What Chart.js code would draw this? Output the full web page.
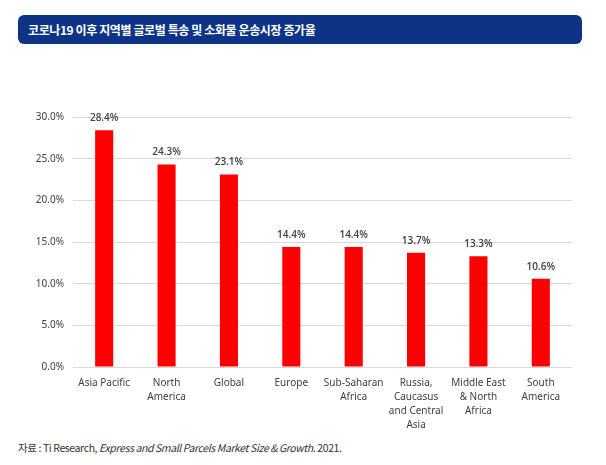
<!DOCTYPE html>
<html>
<head>
<meta charset="utf-8">
<script src="https://cdn.jsdelivr.net/npm/chart.js@4"></script>
<style>
  body { margin: 0; width: 606px; height: 465px; background: #fff; position: relative; overflow: hidden; }
  #title {
    position: absolute; left: 18px; top: 15px; width: 564px; height: 29px;
    background: #0d3387; border-radius: 6px; color: #fff;
    font: bold 12px "Noto Sans CJK KR", sans-serif; line-height: 29px;
    letter-spacing: -0.4px; padding-left: 10px; box-sizing: border-box;
  }
  #wrap { position: absolute; left: 0; top: 60px; width: 606px; height: 380px; }
  #source {
    position: absolute; left: 18px; top: 440px;
    font: 10.5px "Noto Sans CJK KR", sans-serif; color: #333; letter-spacing: -0.4px;
  }
</style>
</head>
<body>
<div id="title">코로나19 이후 지역별 글로벌 특송 및 소화물 운송시장 증가율</div>
<div id="wrap"><canvas id="chart"></canvas></div>
<div id="source">자료 : Ti Research, <i>Express and Small Parcels Market Size &amp; Growth</i>. 2021.</div>
<script>
// 지역 (x축 레이블)
const regions = [
  ["Asia Pacific"],
  ["North", "America"],
  ["Global"],
  ["Europe"],
  ["Sub-Saharan", "Africa"],
  ["Russia,", "Caucasus", "and Central", "Asia"],
  ["Middle East", "& North", "Africa"],
  ["South", "America"]
];
// 증가율 (%)
const growth = [28.4, 24.3, 23.1, 14.4, 14.4, 13.7, 13.3, 10.6];
const yTicks = [0, 5, 10, 15, 20, 25, 30];

// 막대 위 값 표시
const valueLabels = {
  id: "valueLabels",
  afterDatasetsDraw(chart) {
    const ctx = chart.ctx;
    const meta = chart.getDatasetMeta(0);
    ctx.save();
    ctx.font = "600 10px 'Open Sans', sans-serif";
    ctx.fillStyle = "#404040";
    ctx.textAlign = "center";
    ctx.textBaseline = "bottom";
    meta.data.forEach((bar, i) => {
      ctx.fillText(growth[i].toFixed(1) + "%", bar.x, bar.y - 7);
    });
    ctx.restore();
  }
};

new Chart(document.getElementById("chart"), {
  type: "bar",
  data: {
    labels: regions,
    datasets: [{
      data: growth,
      backgroundColor: "#ff0000",
      categoryPercentage: 1,
      barPercentage: 0.29
    }]
  },
  options: {
    responsive: true,
    maintainAspectRatio: false,
    animation: false,
    layout: { padding: { top: 57, right: 34, bottom: 0, left: 0 } },
    plugins: { legend: { display: false }, tooltip: { enabled: false } },
    scales: {
      x: {
        grid: { display: false, drawTicks: false },
        border: { display: false },
        ticks: {
          color: "#404040",
          font: { family: "'Noto Sans', sans-serif", size: 10, lineHeight: 1.4 },
          padding: 9,
          maxRotation: 0,
          autoSkip: false
        },
        afterFit(scale) { scale.height = 73; }
      },
      y: {
        min: 0,
        max: 30,
        afterBuildTicks(scale) { scale.ticks = yTicks.map(v => ({ value: v })); },
        grid: { color: "#d9d9d9", drawTicks: false },
        border: { display: false },
        ticks: {
          color: "#404040",
          font: { family: "'Noto Sans', sans-serif", size: 10 },
          padding: 9,
          callback: v => v.toFixed(1) + "%"
        },
        afterFit(scale) { scale.width = 73; }
      }
    }
  },
  plugins: [valueLabels]
});
</script>
</body>
</html>
